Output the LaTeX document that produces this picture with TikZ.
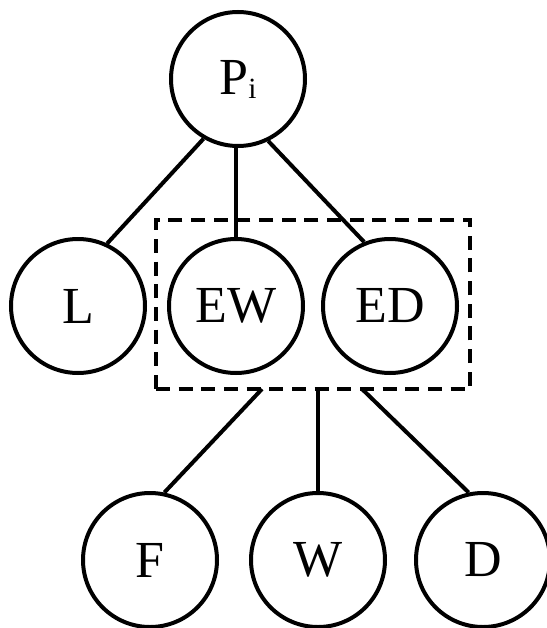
\documentclass[tikz,border=0pt]{standalone}
\usepackage{fontspec}
\setmainfont{Liberation Serif}
\tikzset{
  state/.style={draw,line width=3pt,circle,minimum size=100.5pt,inner sep=0pt,
    font=\fontsize{39}{39}\selectfont},
  dashbox/.style={draw,line width=3pt,dash pattern=on 10.5pt off 6.5pt,
    minimum width=235.5pt,minimum height=126.75pt,inner sep=0pt},
  edge/.style={line width=3pt}
}
\begin{document}
\begin{tikzpicture}[x=0.75pt,y=-0.75pt]
\useasboundingbox (0,0) rectangle (546,628);
\node[state] (P) at (238,79) {P\raisebox{-3pt}{\fontsize{22}{22}\selectfont i}};
\node[state] (L) at (78,306) {L};
\node[state] (EW) at (236,306) {EW};
\node[state] (ED) at (390,306) {ED};
\node[dashbox] (box) at (313,304.5) {};
\node[state] (F) at (150,560) {F};
\node[state] (W) at (318,560) {W};
\node[state] (D) at (483,560) {D};
% upper edges
\draw[edge] (P.240) -- (L.65);
\draw[edge] (P.south -| EW.north) -- (EW.north);
\draw[edge] (P.296) -- (ED.112);
% lower edges, from the box
\coordinate (b1) at (262,389);
\coordinate (b2) at (318,389);
\coordinate (b3) at (362,389);
\draw[edge] (b1) -- (F.78);
\draw[edge] (b2) -- (W.north);
\draw[edge] (b3) -- (D.102);
\end{tikzpicture}
\end{document}
